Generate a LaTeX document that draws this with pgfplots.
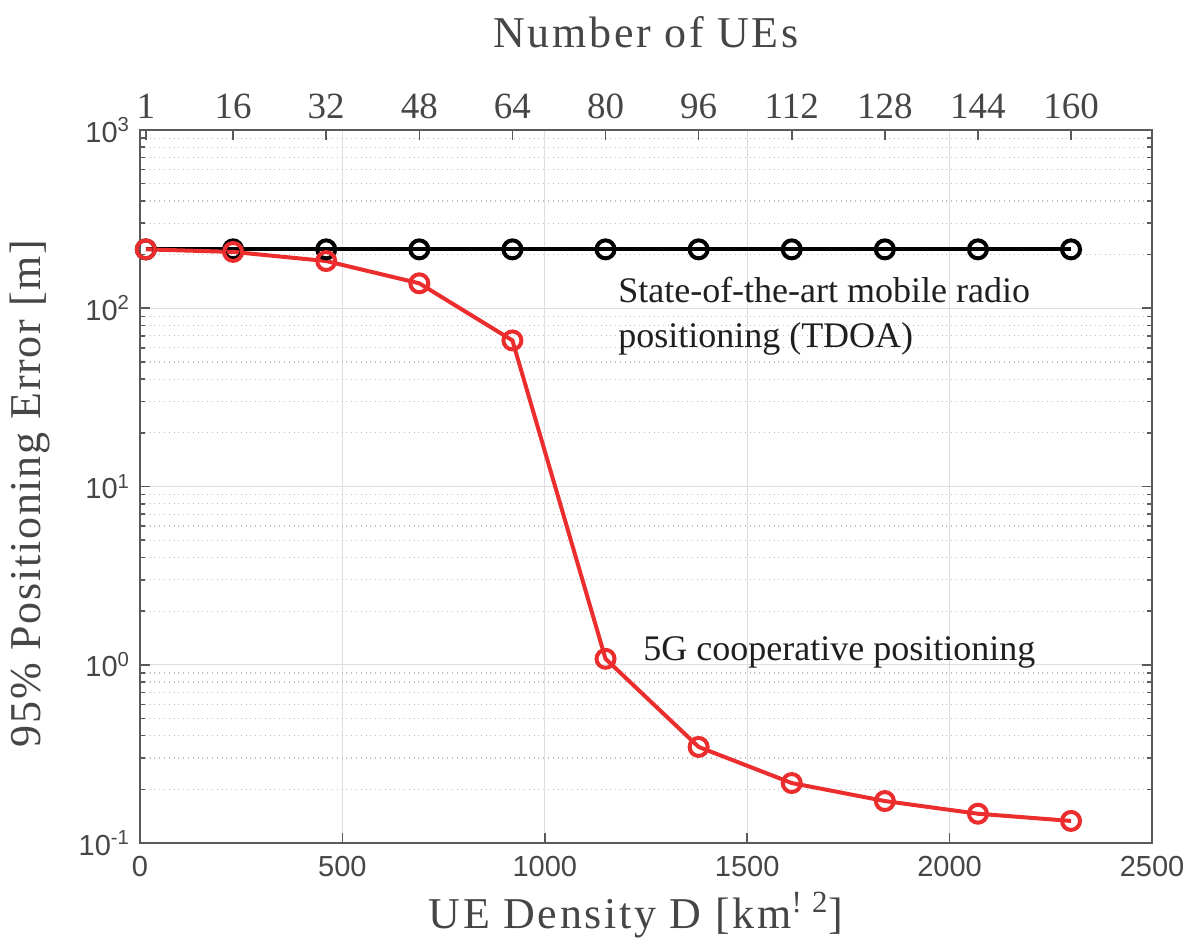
\documentclass[border=0pt]{standalone}
\usepackage{fontspec}
\setmainfont{Liberation Serif}
\setsansfont{Liberation Sans}
\newfontfamily\lblfont[LetterSpace=6]{Liberation Serif}
\newfontfamily\ylblfont[LetterSpace=4]{Liberation Serif}
\usepackage{pgfplots}
\usepackage{pgfplotstable}
\pgfplotsset{compat=1.18}

\definecolor{axgray}{RGB}{90,90,90}
\definecolor{txtgray}{RGB}{70,70,70}
\definecolor{mred}{RGB}{235,45,45}
\definecolor{gridmaj}{RGB}{222,222,222}
\definecolor{gridmin}{RGB}{190,190,190}

\pgfplotstableread{
x black red
14.375 214 214
230 214 207
460 214 184
690 214 138
920 214 66
1150 214 1.08
1380 214 0.346
1610 214 0.217
1840 214 0.172
2070 214 0.146
2300 214 0.133
}\datatab

\begin{document}
\begin{tikzpicture}
\begin{axis}[
  name=main,
  scale only axis, width=506pt, height=356.5pt,
  xmin=0, xmax=2500, ymin=0.1, ymax=1000, ymode=log,
  axis line style={axgray, line width=0.9pt},
  xtick={0,500,1000,1500,2000,2500},
  ytick={0.1,1,10,100,1000},
  yticklabels={10\textsuperscript{-1},10\textsuperscript{0},10\textsuperscript{1},10\textsuperscript{2},10\textsuperscript{3}},
  xtick pos=bottom, ytick pos=both,
  tick align=inside,
  major tick length=5pt, minor tick length=2.5pt,
  every tick/.style={axgray, line width=0.8pt},
  xmajorgrids, ymajorgrids, yminorgrids,
  major grid style={gridmaj, line width=0.6pt},
  minor grid style={gridmin, dotted, line width=0.6pt},
  /pgf/number format/assume math mode=true,
  /pgf/number format/1000 sep={},
  ticklabel style={font=\sffamily\fontsize{14.5}{16}\selectfont, text=txtgray},
  xticklabel style={yshift=-3pt},
  yticklabel style={xshift=-1.5pt},
  xlabel={UE Density D [km\textsuperscript{!\,\,2}]},
  ylabel={95\% Positioning Error [m]},
  xlabel style={font=\lblfont\fontsize{22}{26}\selectfont, text=txtgray, at={(axis description cs:0.49,-0.1192)}, anchor=base},
  ylabel style={font=\ylblfont\fontsize{22}{26}\selectfont, text=txtgray, at={(axis description cs:-0.0988,0.49)}, anchor=base, rotate=0},
]
\addplot[black, line width=2pt, mark=o, mark size=4.5pt, mark options={line width=2pt}] table[x=x, y=black] {\datatab};
\addplot[mred, line width=2pt, mark=o, mark size=4.5pt, mark options={line width=2pt}] table[x=x, y=red] {\datatab};
\node[anchor=base west, font=\fontsize{18}{20}\selectfont, text=black!88] at (axis cs:1164,108) {State-of-the-art mobile radio};
\node[anchor=base west, font=\fontsize{18}{20}\selectfont, text=black!88] at (axis cs:1164,60) {positioning (TDOA)};
\node[anchor=base west, font=\fontsize{18}{20}\selectfont, text=black!88] at (axis cs:1226,1.05) {5G cooperative positioning};
\end{axis}
\begin{axis}[
  scale only axis, width=506pt, height=356.5pt,
  xmin=0, xmax=173.913, ymin=0, ymax=1,
  axis x line*=top, axis y line=none,
  axis line style={axgray, line width=0.9pt},
  xtick={1,16,32,48,64,80,96,112,128,144,160},
  tick align=inside,
  major tick length=5pt,
  every tick/.style={axgray, line width=0.8pt},
  /pgf/number format/assume math mode=true,
  xticklabel style={font=\fontsize{18.5}{20}\selectfont, text=txtgray, yshift=2pt},
  xlabel={Number of UEs},
  xlabel style={font=\lblfont\fontsize{22}{26}\selectfont, text=txtgray, at={(axis description cs:0.5,1.1164)}, anchor=base},
]
\addplot[draw=none] coordinates {(1,0.5) (160,0.5)};
\end{axis}
\pgfresetboundingbox
\path[use as bounding box] ([shift={(-70pt,-50.5pt)}]main.south west) rectangle ([shift={(19.5pt,65pt)}]main.north east);
\end{tikzpicture}
\end{document}
